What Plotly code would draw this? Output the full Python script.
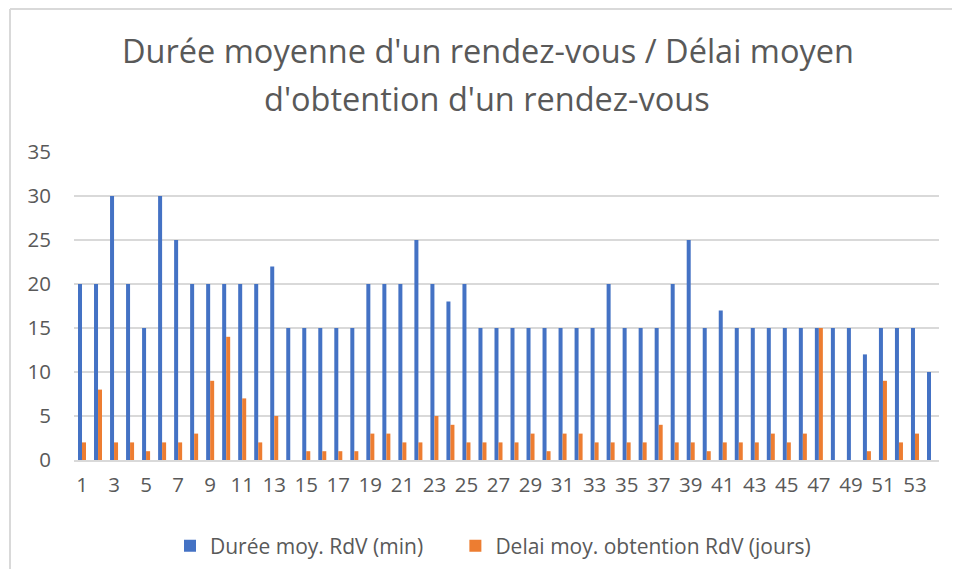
import plotly.graph_objects as go

categories = [str(i) for i in range(1, 55)]
duree = [20, 20, 30, 20, 15, 30, 25, 20, 20, 20, 20, 20, 22, 15, 15, 15, 15, 15,
         20, 20, 20, 25, 20, 18, 20, 15, 15, 15, 15, 15, 15, 15, 15, 20, 15, 15,
         15, 20, 25, 15, 17, 15, 15, 15, 15, 15, 15, 15, 15, 12, 15, 15, 15, 10]
delai = [2, 8, 2, 2, 1, 2, 2, 3, 9, 14, 7, 2, 5, 0, 1, 1, 1, 1,
         3, 3, 2, 2, 5, 4, 2, 2, 2, 2, 3, 1, 3, 3, 2, 2, 2, 2,
         4, 2, 2, 1, 2, 2, 2, 3, 2, 3, 15, 0, 0, 1, 9, 2, 3, 0]
x_ticks = [str(i) for i in range(1, 55, 2)]
y_ticks = [0, 5, 10, 15, 20, 25, 30, 35]

# page body has an 8px margin: figure size reduced so nothing overflows
OFF = 8
W, H = 944, 561
L, R, T, B = 66, 13, 144, 109
pw, ph = W - L - R, H - T - B

def px(x):  # reference screen x -> paper
    return (x - OFF - L) / pw

def py(y):  # reference screen y -> paper
    return (H - B - (y - OFF)) / ph

FONT = "Open Sans"
GREY = "#595959"
BORDER = "#d9d9d9"

fig = go.Figure()
fig.add_trace(go.Bar(x=categories, y=duree, name="Durée moy. RdV (min)" + "\u00a0" * 5,
                     marker=dict(color="#4472C4", line=dict(width=0))))
fig.add_trace(go.Bar(x=categories, y=delai, name="Delai moy. obtention RdV (jours)",
                     marker=dict(color="#ED7D31", line=dict(width=0))))

fig.update_layout(
    width=W, height=H,
    margin=dict(l=L, r=R, t=T, b=B, autoexpand=False),
    paper_bgcolor="white", plot_bgcolor="white",
    barmode="group", bargap=0.5, bargroupgap=0,
    font=dict(family=FONT, color=GREY, size=20),
    showlegend=True,
    legend=dict(orientation="h", x=px(493), xanchor="center", y=py(546), yanchor="middle",
                font=dict(size=21, color=GREY), itemwidth=30, traceorder="normal"),
    xaxis=dict(type="category", tickmode="array", tickvals=x_ticks, ticktext=x_ticks,
               showgrid=False, showline=True, linecolor=BORDER, linewidth=2,
               ticks="", ticklabelstandoff=5, tickfont=dict(size=20.5, color=GREY)),
    yaxis=dict(range=[0, 35], tickvals=y_ticks, showgrid=True, gridcolor=BORDER,
               gridwidth=2, zeroline=False, showline=False, ticks="",
               ticklabelstandoff=22, tickfont=dict(size=20.5, color=GREY)),
    annotations=[
        dict(text="Durée moyenne d'un rendez-vous / Délai moyen", x=px(488), y=py(51),
             xref="paper", yref="paper", showarrow=False, xanchor="center", yanchor="middle",
             font=dict(size=32.5, color=GREY, family=FONT)),
        dict(text="d'obtention d'un rendez-vous", x=px(487), y=py(98),
             xref="paper", yref="paper", showarrow=False, xanchor="center", yanchor="middle",
             font=dict(size=32.5, color=GREY, family=FONT)),
    ],
    shapes=[
        dict(type="line", xref="paper", yref="paper",
             x0=px(10), x1=px(1000), y0=py(9), y1=py(9),
             line=dict(color=BORDER, width=2), layer="below"),
        dict(type="line", xref="paper", yref="paper",
             x0=px(10), x1=px(10), y0=py(9), y1=py(620),
             line=dict(color=BORDER, width=2), layer="below"),
    ],
)

fig.write_html("out.html")
